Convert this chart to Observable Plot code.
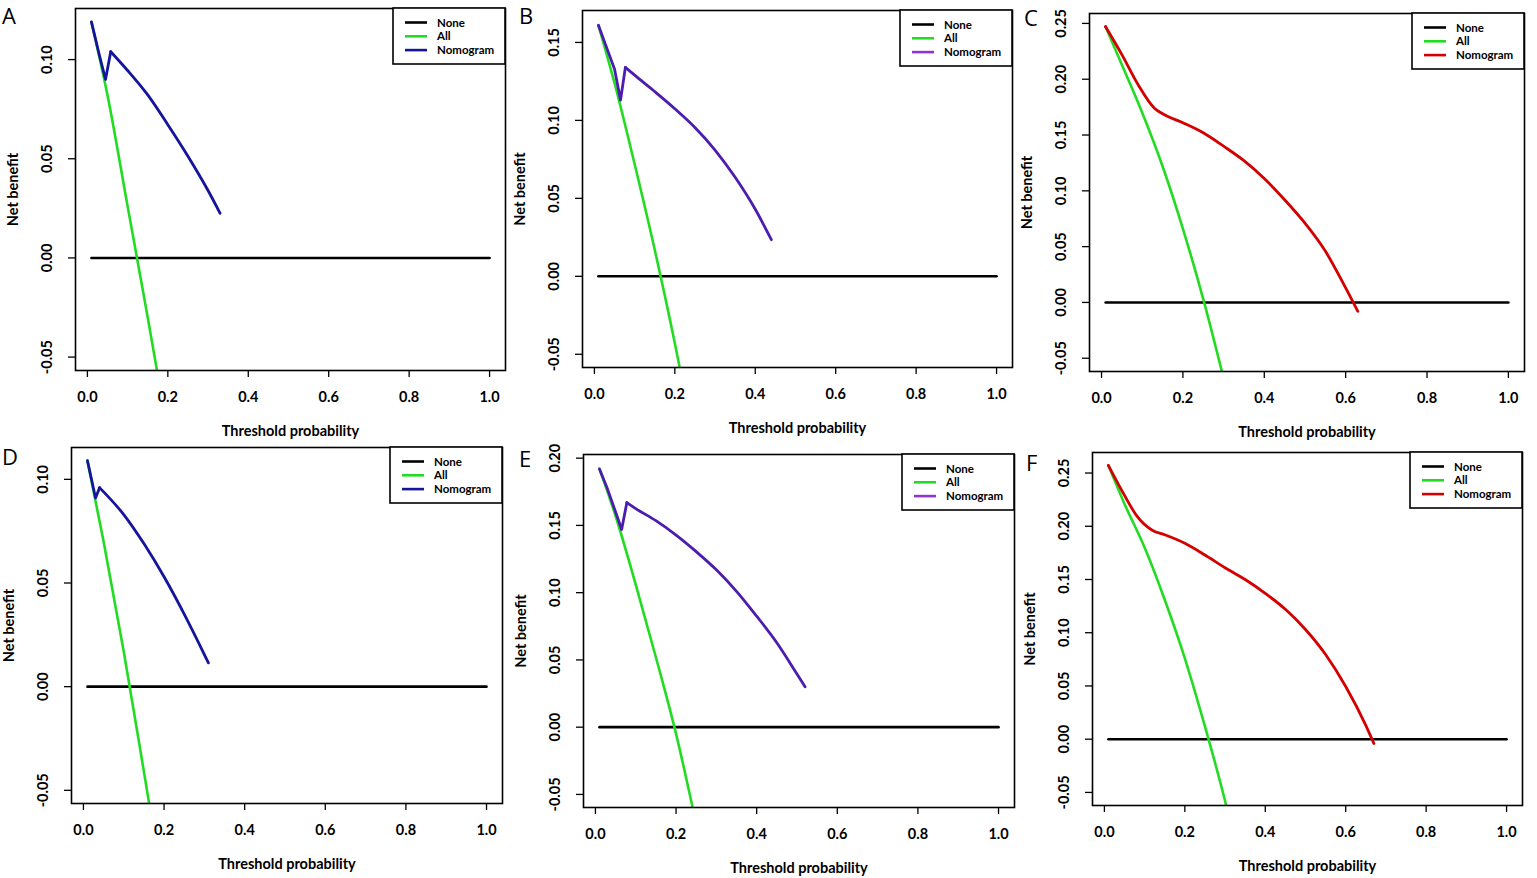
<!DOCTYPE html>
<html>
<head>
<meta charset="utf-8">
<script src="https://cdn.jsdelivr.net/npm/d3@7"></script>
<script src="https://cdn.jsdelivr.net/npm/@observablehq/plot@0.6"></script>
<style>
  html, body { margin: 0; padding: 0; background: #fff; }
  body { width: 1537px; height: 878px; overflow: hidden; position: relative; }
  #root { position: absolute; left: 0; top: 0; width: 1537px; height: 878px; }
  #overlay { position: absolute; left: 0; top: 0; pointer-events: none; }
</style>
</head>
<body>
<div id="root"></div>
<script>
// ---------- data ----------
const panelNames = ["A", "B", "C", "D", "E", "F"];
const seriesNames = ["None", "All", "Nomogram"];
const xTicks = [0, 0.2, 0.4, 0.6, 0.8, 1.0];

const yTicksA = [-0.05, 0, 0.05, 0.10];
const yTicksB = [-0.05, 0, 0.05, 0.10, 0.15];
const yTicksC = [-0.05, 0, 0.05, 0.10, 0.15, 0.20, 0.25];
const yTicksD = [-0.05, 0, 0.05, 0.10];
const yTicksE = [-0.05, 0, 0.05, 0.10, 0.15, 0.20];
const yTicksF = [-0.05, 0, 0.05, 0.10, 0.15, 0.20, 0.25];

// upper y limit of each panel (max net benefit)
const yMaxByPanel = [0.119, 0.162, 0.247, 0.109, 0.193, 0.257];

// "None" strategy
const noneThreshold = [0.01, 1.0];
const noneBenefit = [0, 0];

// "All" strategy (treat all)
const allThresholdA = [0.01, 0.05, 0.10, 0.15, 0.20];
const allBenefitA   = [0.119, 0.082, 0.026, -0.030, -0.088];
const allThresholdB = [0.01, 0.05, 0.10, 0.15, 0.20, 0.25];
const allBenefitB   = [0.161, 0.124, 0.072, 0.017, -0.043, -0.110];
const allThresholdC = [0.01, 0.05, 0.10, 0.15, 0.20, 0.25, 0.30];
const allBenefitC   = [0.247, 0.213, 0.170, 0.122, 0.066, 0.003, -0.068];
const allThresholdD = [0.01, 0.05, 0.10, 0.15, 0.20];
const allBenefitD   = [0.109, 0.070, 0.017, -0.041, -0.100];
const allThresholdE = [0.01, 0.05, 0.10, 0.15, 0.20, 0.25];
const allBenefitE   = [0.192, 0.157, 0.106, 0.052, -0.005, -0.072];
const allThresholdF = [0.01, 0.05, 0.10, 0.15, 0.20, 0.25, 0.30, 0.35];
const allBenefitF   = [0.257, 0.221, 0.180, 0.131, 0.076, 0.012, -0.058, -0.140];

// "Nomogram" model
const nomThresholdA = [0.01, 0.03, 0.045, 0.058, 0.10, 0.15, 0.20, 0.25, 0.30, 0.33];
const nomBenefitA   = [0.119, 0.102, 0.090, 0.104, 0.0945, 0.0822, 0.0672, 0.0513, 0.0340, 0.0225];
const nomThresholdB = [0.01, 0.03, 0.05, 0.065, 0.077, 0.10, 0.15, 0.20, 0.25, 0.30, 0.35, 0.40, 0.44];
const nomBenefitB   = [0.161, 0.147, 0.133, 0.113, 0.134, 0.129, 0.1185, 0.1075, 0.0955, 0.081, 0.0635, 0.043, 0.0235];
const nomThresholdC = [0.01, 0.05, 0.09, 0.13, 0.15, 0.20, 0.25, 0.30, 0.35, 0.40, 0.45, 0.50, 0.55, 0.60, 0.63];
const nomBenefitC   = [0.247, 0.222, 0.195, 0.174, 0.169, 0.161, 0.152, 0.140, 0.127, 0.111, 0.092, 0.071, 0.046, 0.013, -0.008];
const nomThresholdD = [0.01, 0.02, 0.03, 0.04, 0.10, 0.15, 0.20, 0.25, 0.30, 0.31];
const nomBenefitD   = [0.109, 0.100, 0.091, 0.096, 0.083, 0.069, 0.053, 0.035, 0.0155, 0.0115];
const nomThresholdE = [0.01, 0.03, 0.05, 0.065, 0.078, 0.10, 0.15, 0.20, 0.25, 0.30, 0.35, 0.40, 0.45, 0.50, 0.52];
const nomBenefitE   = [0.192, 0.177, 0.160, 0.147, 0.167, 0.1625, 0.1535, 0.1428, 0.1305, 0.117, 0.101, 0.0825, 0.0628, 0.0395, 0.030];
const nomThresholdF = [0.01, 0.05, 0.08, 0.12, 0.15, 0.20, 0.25, 0.30, 0.35, 0.40, 0.45, 0.50, 0.55, 0.60, 0.65, 0.67];
const nomBenefitF   = [0.257, 0.229, 0.210, 0.196, 0.192, 0.184, 0.173, 0.161, 0.150, 0.137, 0.122, 0.103, 0.0795, 0.0495, 0.013, -0.004];

// ---------- layout & styles ----------
const FONT = "Lato, 'Open Sans', sans-serif";
const WEIGHT = "bold";
const GREEN = "#22dc22";
const nomColors = ["#14149c", "#4c1cae", "#d40000", "#14149c", "#4c1cae", "#d40000"];
const nomLegendColors = ["#14149c", "#9230d2", "#d40000", "#14149c", "#9230d2", "#d40000"];
// plot frame of each panel in page pixels: [left, top, right, bottom]
const frames = [
  [75, 8, 505, 370], [582, 10, 1012, 367], [1089, 13, 1524, 371],
  [71, 447, 502, 803], [583, 454, 1014, 807], [1092, 452, 1522, 805]
];
// panel letter positions (x, baseline)
const letterPos = [[2, 24], [519, 24], [1024, 26], [2, 465], [519, 467], [1026, 471]];

const yTicks = [yTicksA, yTicksB, yTicksC, yTicksD, yTicksE, yTicksF];
const allX = [allThresholdA, allThresholdB, allThresholdC, allThresholdD, allThresholdE, allThresholdF];
const allY = [allBenefitA, allBenefitB, allBenefitC, allBenefitD, allBenefitE, allBenefitF];
const nomX = [nomThresholdA, nomThresholdB, nomThresholdC, nomThresholdD, nomThresholdE, nomThresholdF];
const nomY = [nomBenefitA, nomBenefitB, nomBenefitC, nomBenefitD, nomBenefitE, nomBenefitF];

const rows = (xs, ys, series) => xs.map((x, i) => ({threshold: x, benefit: ys[i], series}));
const xDomain = [0.01 - 0.04 * 0.99, 1 + 0.04 * 0.99];

const root = document.getElementById("root");
const mL = 80, mR = 10, mT = 10, mB = 78;

panelNames.forEach((name, k) => {
  const [L, T, R, B] = frames[k];
  const yMax = yMaxByPanel[k];
  const span = yMax + 0.05;
  const yDomain = [-0.05 - 0.04 * span, yMax + 0.04 * span];
  const nomRows = rows(nomX[k], nomY[k], seriesNames[2]);
  // sharp dip/peak at low thresholds drawn with straight segments, smooth tail after the peak
  const dip = nomRows.findIndex((d, i) => i > 0 && i < nomRows.length - 1 && d.benefit < nomRows[i + 1].benefit);
  const split = dip >= 0 ? dip + 1 : 0;
  const sharpRows = nomRows.slice(0, split + 1);
  const smoothRows = nomRows.slice(split);
  const chart = Plot.plot({
    width: (R - L) + mL + mR,
    height: (B - T) + mT + mB,
    marginLeft: mL, marginRight: mR, marginTop: mT, marginBottom: mB,
    x: {domain: xDomain},
    y: {domain: yDomain},
    style: {background: "transparent", fontFamily: FONT, fontSize: "14px", color: "black", overflow: "visible"},
    marks: [
      Plot.axisX(xTicks, {tickSize: 7, tickPadding: 14, tickFormat: d => d.toFixed(1), fontSize: 14.5, fontWeight: WEIGHT, strokeWidth: 1.3, label: null}),
      Plot.axisY(yTicks[k], {tickSize: 7, tickFormat: () => "", strokeWidth: 1.3, label: null}),
      Plot.text(yTicks[k], {y: d => d, text: d => d.toFixed(2), frameAnchor: "left", dx: -28, rotate: -90, textAnchor: "middle", lineAnchor: "middle", fontSize: 14.5, fontWeight: WEIGHT}),
      Plot.text(["Threshold probability"], {text: d => d, frameAnchor: "bottom", dy: 61, lineAnchor: "middle", fontSize: 14.5, fontWeight: WEIGHT}),
      Plot.text(["Net benefit"], {text: d => d, frameAnchor: "left", dx: -62, rotate: -90, lineAnchor: "middle", textAnchor: "middle", fontSize: 14.5, fontWeight: WEIGHT}),
      Plot.line(rows(noneThreshold, noneBenefit, seriesNames[0]), {x: "threshold", y: "benefit", stroke: "black", strokeWidth: 2.6, clip: true}),
      Plot.line(rows(allX[k], allY[k], seriesNames[1]), {x: "threshold", y: "benefit", stroke: GREEN, strokeWidth: 2.6, curve: "monotone-x", clip: true}),
      Plot.line(sharpRows, {x: "threshold", y: "benefit", stroke: nomColors[k], strokeWidth: 2.8, curve: "linear", clip: true}),
      Plot.line(smoothRows, {x: "threshold", y: "benefit", stroke: nomColors[k], strokeWidth: 2.8, curve: "monotone-x", clip: true}),
      Plot.frame({stroke: "black", strokeWidth: 1.6})
    ]
  });
  chart.style.position = "absolute";
  chart.style.left = (L - mL) + "px";
  chart.style.top = (T - mT) + "px";
  root.append(chart);
});

// ---------- overlay: legends & panel letters ----------
const ns = "http://www.w3.org/2000/svg";
const overlay = document.createElementNS(ns, "svg");
overlay.setAttribute("id", "overlay");
overlay.setAttribute("width", 1537);
overlay.setAttribute("height", 878);
const el = (tag, attrs, text) => {
  const e = document.createElementNS(ns, tag);
  for (const a in attrs) e.setAttribute(a, attrs[a]);
  if (text != null) e.textContent = text;
  overlay.append(e);
  return e;
};
panelNames.forEach((name, k) => {
  const [L, T, R, B] = frames[k];
  const bw = 112, bh = 56;
  el("rect", {x: R - bw, y: T, width: bw, height: bh, fill: "white", stroke: "black", "stroke-width": 1.6});
  const colors = ["black", GREEN, nomLegendColors[k]];
  seriesNames.forEach((s, i) => {
    const yy = T + 14.5 + i * 13.8;
    el("line", {x1: R - 100, x2: R - 78, y1: yy, y2: yy, stroke: colors[i], "stroke-width": 2.6});
    el("text", {x: R - 68, y: yy + 4, "font-family": FONT, "font-size": 11.5, "font-weight": WEIGHT, fill: "black"}, s);
  });
  const [lx, ly] = letterPos[k];
  el("text", {x: lx, y: ly, "font-family": "'Open Sans', sans-serif", "font-size": 22, fill: "black"}, name);
});
document.body.append(overlay);
</script>
</body>
</html>
